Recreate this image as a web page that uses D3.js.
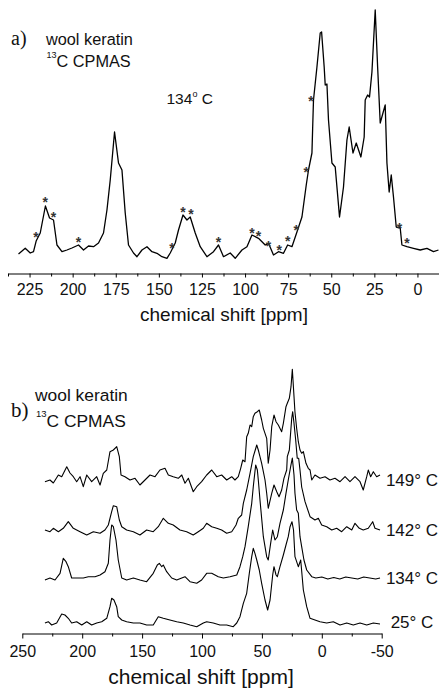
<!DOCTYPE html>
<html><head><meta charset="utf-8">
<script src="https://cdn.jsdelivr.net/npm/d3@7"></script>
<style>body{margin:0;background:#fff} svg{display:block;font-family:"Liberation Sans",Arial,sans-serif}</style>
</head><body>
<svg id="c" width="439" height="691"></svg>
<script>
// ---------- panel a data: 13C CPMAS of wool keratin at 134 °C ----------
const spectrumA = [[231.4,0],[227.5,5.7],[224.6,1],[222.7,2.3],[221.1,13.3],[218.8,21],[215.8,48],[213.4,36],[211.1,34],[209.1,9],[206.2,2.3],[203.3,4],[200.4,6],[196.6,9],[193.7,4],[190.8,8],[187.9,7.3],[185,11],[182.1,21],[180.1,44],[178.2,74],[175.7,122],[173.4,91],[171.4,84],[169.5,41],[167.6,9],[164.7,1],[162.7,-2.7],[159.8,4],[156.9,7.3],[154,2.3],[151.1,0.7],[148.2,-2.7],[145.3,-4.3],[143.4,1],[140.5,11],[138.6,24],[136,39],[133.7,34],[131.8,37],[128.9,21],[126,7.3],[122.1,-2.7],[118.3,2.3],[115.4,9],[112.5,-2.7],[108.6,1],[105.7,-4.3],[101.8,4],[98.9,7.3],[96,19],[92.2,15.7],[88.3,9],[86.4,10.7],[83.5,-1],[80.6,2.3],[77.7,0.7],[75.3,9],[72.8,7.3],[69.9,22],[67,37],[64.5,69],[63.2,84],[61.2,101],[60.8,125],[60.3,154],[58.3,187],[56.4,221],[55.6,222],[54.1,187],[53.5,169],[52.5,170],[51.6,134],[49.6,91],[47.7,87],[45.2,37],[42.9,67],[40.9,114],[39.6,127],[37.4,101],[35.5,111],[32.8,97],[30.9,117],[30.3,154],[28.9,159],[27.8,157],[26.4,182],[24.5,244],[23.1,187],[21.6,131],[20,141],[18.7,149],[17.7,91],[16.4,62],[15.2,79],[13.9,57],[12.3,27],[10,26],[9,9],[6.1,7.3],[2.3,5.7],[-1.6,4],[-5.5,5.7],[-9.3,2.3],[-12.2,4]];
const starsA = [[221.3,19.7],[215.9,54.7],[211.1,39.7],[196.6,14.7],[142.4,9.5],[136,44.7],[131.4,43],[115.4,14.7],[96,24],[92.2,21.3],[86.4,11.3],[80.2,6.7],[75.3,15.7],[70.3,27.3],[64.5,85.3],[61.8,156.3],[10.4,29],[6.1,14]];
const majorTicksA = [225,200,175,150,125,100,75,50,25,0];
const minorTicksA = [237.5,212.5,187.5,162.5,137.5,112.5,87.5,62.5,37.5,12.5,-12.5];
const tickLabelsA = ["225","200","175","150","125","100","75","50","25","0"];

// ---------- panel b data: spectra at four temperatures ----------
const trace25 = [[231.1,0],[228.3,1.3],[225.5,-2],[221.3,0],[217.1,9],[214.4,8],[211.6,4.7],[208.8,0],[204.6,1.3],[200.4,-2],[196.2,1.3],[192.1,-2],[187.9,0],[183.7,1.3],[179.5,4.7],[176.8,16.3],[175.4,24.7],[173.5,23],[171.2,16.3],[169.9,6.3],[167,3],[162.9,1.3],[157.3,0],[151.8,0],[146.2,-2],[140.7,-2],[136.5,6.3],[132.3,4.7],[126.8,3],[121.1,1.3],[115.6,0],[110,-2],[104.4,-3.7],[98.9,0],[96.1,1.3],[90.6,0],[85,-2],[79.4,-2],[73.9,-3.7],[71,0],[68.3,6.3],[65.5,19.7],[62.7,29.7],[60.5,49.7],[58.5,66.3],[57.2,74.7],[55.8,69.7],[54.3,63],[52.2,53],[50.2,39.7],[47.4,23],[45.2,13],[43.2,23],[41,48],[39.9,56.3],[38.2,48],[37.1,46.3],[34.9,56.3],[32.1,68],[29.9,78],[28,86.3],[26.5,96.3],[24.9,101.3],[23.6,93],[22.4,66.3],[19.6,56.3],[17.6,63],[15.4,33],[12.6,16.3],[9.8,4.7],[5.7,3],[1.5,1.3],[-4.1,0],[-9.6,1.3],[-15.2,-2],[-20.8,0],[-26.3,-2],[-31.9,0],[-37.5,-2],[-43,0],[-48.6,-1]];
const trace134 = [[231.1,-2],[226.9,0],[222.7,-2],[218.5,4.7],[215.8,19.7],[213.5,16.3],[211.6,11.3],[208.8,0],[204.6,0],[199.1,0],[194.9,1.3],[189.3,1.3],[185.1,3],[181,6.3],[178.2,14.7],[176.8,38],[175.4,53],[174,51.3],[171.8,38],[169.9,18],[167,0],[162.9,-2],[157.3,0],[151.8,-2],[146.2,-3.7],[140.7,4.7],[137.3,13],[135.6,14.7],[133.6,11.3],[132.3,13],[129.5,6.3],[125.3,0],[121.1,-2],[116.9,0],[114.2,1.3],[110,-3.7],[104.4,-5.3],[100.3,-2],[96.1,4.7],[91.9,4.7],[86.4,1.3],[82.2,0],[76.6,1.3],[71,3],[68.3,11.3],[66,21.3],[64.1,31.3],[61.4,51.3],[58.5,74.7],[57.2,91.3],[55.2,113],[53.8,108],[53,98],[51.6,78],[48.8,41.3],[46,21.3],[44.7,18],[42.7,34.7],[41,48],[39.1,38],[37.1,41.3],[34.9,54.7],[32.1,68],[29.9,84.7],[28,98],[26,111.3],[24.6,120],[23.2,103],[22.4,84.7],[21,68],[19.6,64.7],[18.2,41.3],[16.8,31.3],[14.9,18],[12.6,8],[8.4,1.3],[5,0],[0,1],[-5,-1],[-10,0.5],[-15,-1],[-20,1],[-25,0],[-30,-1],[-35,1],[-40,0],[-45,-1],[-48.6,0]];
const trace142 = [[231.1,0],[226.9,-1.7],[224.1,1.7],[219.9,-1.7],[215.8,1.7],[211.6,8.3],[207.4,1.7],[201.8,-1.7],[196.2,-5],[190.7,-1.7],[185.1,-3.3],[181,0],[178.2,5],[175.4,18.3],[174,24.3],[171.2,23.3],[169,10],[167,3.3],[162.9,0],[157.3,-1.7],[151.8,-5],[146.2,0],[140.7,-1.7],[136.5,3.3],[132.3,11.7],[128.1,6.7],[124,5],[118.4,0],[112.8,-1.7],[107.3,-5],[103.1,-1.7],[98.9,1.7],[96.1,6.7],[91.9,3.3],[87.7,1.7],[83.6,0],[79.4,-3.3],[75.2,-1.7],[71.6,5],[69.7,11.7],[66.9,15],[65.5,26.7],[62.7,40],[59.9,56.7],[57.2,73.3],[54.3,85],[53,80],[51.6,73.3],[50.2,66.7],[48.8,58.3],[47.4,50],[46,36.7],[44.7,21.7],[41.8,36.7],[39.9,45],[37.6,38.3],[35.7,33.3],[33.5,40],[31.6,51.7],[29.3,60],[28.8,73.3],[27.1,80],[25.1,111.7],[24.3,118.3],[23.2,106.7],[21.8,90],[20.5,71.7],[19.3,71.7],[18.2,60],[16.8,43],[14,28.3],[9.8,13.3],[5.7,10],[2.9,11.7],[0.1,5],[-4.1,3.3],[-8.3,0],[-12.4,1.7],[-16.6,-1.7],[-20.8,3.3],[-25,0],[-27.7,6.7],[-31.3,1.7],[-34.6,0],[-38.8,1.7],[-42.5,8.3],[-44.4,1.7],[-48.6,0]];
const trace149 = [[231.1,-2.7],[226.9,-1],[224.1,-4],[219.9,4],[217.1,2.3],[212.9,12.3],[210.2,6],[207.4,2.3],[204.6,-2.7],[201.8,2.3],[199.1,-7.7],[196.2,4],[192.1,-2.7],[187.9,2.3],[185.1,-6],[182.4,5.7],[179.5,9],[176.8,27.3],[174,29],[171.2,32.3],[169,22.3],[167.6,4],[164.3,2.3],[160.1,-1],[155.9,0.7],[151.8,-6],[147.6,-1],[143.4,4],[139.2,2.3],[135.1,9],[130.9,10.7],[128.1,4],[124,2.3],[119.8,0.7],[116.9,4],[114.2,-4.3],[111.4,0.7],[107.3,-12.7],[104.4,-7.7],[100.3,-2.7],[96.1,4],[91.9,9],[87.7,2.3],[83.6,4],[79.4,-1],[75.2,2.3],[72.5,-1],[69.7,2.3],[67.7,10.7],[66,19],[64.1,17.3],[62.7,42.3],[61.4,45.7],[59.9,54],[58.5,52.3],[57.2,62.3],[55.8,65.7],[53.8,67.3],[52.2,69],[50.2,59],[48.8,50.7],[47.4,45.7],[46,40.7],[44.7,15.7],[43.2,29],[41.8,52.3],[39.9,64],[38.2,57.3],[36.3,54],[33.5,47.3],[32.1,55.7],[29.9,72.3],[28.8,75.7],[27.1,80.7],[25.7,92.3],[24.6,109.7],[22.4,67],[21,50.7],[19.6,37.3],[18.2,29],[16.8,25.7],[15.4,27.3],[13.2,15.7],[11.3,10.7],[9.8,9],[8.4,-1],[5.7,4],[1.5,0.7],[-2.7,2.3],[-6.8,-1],[-11,0.7],[-15.2,-2.7],[-19.4,2.3],[-23.5,-2.7],[-27.7,2.3],[-31.9,-2.7],[-34.6,-11],[-37.5,2.3],[-38.8,9],[-40.8,2.3],[-43,7.3],[-45.8,2.3],[-48.6,4]];
const tracesB = [trace25, trace134, trace142, trace149];
const offsetsB = [10, 55, 103, 154];
const tempLabels = ["25° C", "134° C", "142° C", "149° C"];
const majorTicksB = [250,200,150,100,50,0,-50];
const minorTicksB = [225,175,125,75,25,-25];
const tickLabelsB = ["250","200","150","100","50","0","-50"];

const svg = d3.select("#c");
const FONT = '"Liberation Sans", Arial, sans-serif';
const SERIF = '"Liberation Serif", "Times New Roman", serif';

// ---------- panel a ----------
const xA = d3.scaleLinear().domain([237.5, -12.5]).range([8, 439]);
const yA = d3.scaleLinear().domain([0, 244]).range([254, 10]);
const axisYA = 273.5;

svg.append("path").datum(spectrumA)
  .attr("fill","none").attr("stroke","#000").attr("stroke-width",1.3).attr("stroke-linejoin","round")
  .attr("d", d3.line().x(d=>xA(d[0])).y(d=>yA(d[1])));

svg.append("g").selectAll("text").data(starsA).join("text")
  .attr("x", d=>xA(d[0])).attr("y", d=>yA(d[1]) + 8)
  .attr("text-anchor","middle").attr("font-size",14).attr("font-weight","bold").attr("fill","#333")
  .attr("font-family",FONT).text("*");

const gA = svg.append("g").attr("transform",`translate(0,${axisYA})`);
gA.call(d3.axisBottom(xA).tickValues(majorTicksA).tickSize(4).tickSizeOuter(0).tickPadding(6)
  .tickFormat((d,i)=>tickLabelsA[i]));
const gA2 = svg.append("g").attr("transform",`translate(0,${axisYA})`);
gA2.call(d3.axisBottom(xA).tickValues(minorTicksA).tickSize(3).tickSizeOuter(0).tickFormat(""));
gA2.select(".domain").remove();
svg.selectAll("g.tick text").attr("font-size",16).attr("font-family",FONT).attr("fill","#111");
svg.selectAll(".domain, .tick line").attr("stroke","#000").attr("stroke-width",1);

svg.append("text").attr("x",224).attr("y",321).attr("text-anchor","middle")
  .attr("font-size",19).attr("font-family",FONT).attr("fill","#111").text("chemical shift [ppm]");

svg.append("text").attr("x",11).attr("y",44.5).attr("font-family",SERIF).attr("font-size",20).attr("fill","#111").text("a)");
svg.append("text").attr("x",46).attr("y",44.5).attr("font-family",FONT).attr("font-size",16.3).attr("fill","#111").text("wool keratin");
svg.append("text").attr("x",46.5).attr("y",58).attr("font-family",FONT).attr("font-size",9).attr("fill","#111").text("13");
svg.append("text").attr("x",56.5).attr("y",66.7).attr("font-family",FONT).attr("font-size",16.3).attr("fill","#111").text("C CPMAS");
const tA = svg.append("text").attr("x",166.5).attr("y",104.3).attr("font-family",FONT).attr("font-size",15.5).attr("fill","#111");
tA.append("tspan").text("134");
tA.append("tspan").attr("font-size",9).attr("dy",-7).text("o");
tA.append("tspan").attr("dy",7).text(" C");

// ---------- panel b ----------
const xB = d3.scaleLinear().domain([250, -50]).range([22.3, 381.7]);
const yB = d3.scaleLinear().domain([0, 270]).range([633, 363]);
const axisYB = 633.5;

tracesB.forEach((tr, i) => {
  svg.append("path").datum(tr)
    .attr("fill","none").attr("stroke","#000").attr("stroke-width",1.1).attr("stroke-linejoin","round")
    .attr("d", d3.line().x(d=>xB(d[0])).y(d=>yB(d[1] + offsetsB[i])));
  svg.append("text").attr("x",412).attr("y", yB(offsetsB[i]) + [5,6,6,7][i])
    .attr("text-anchor","middle").attr("font-family",FONT).attr("font-size",17).attr("fill","#111")
    .text(tempLabels[i]);
});

const gB = svg.append("g").attr("transform",`translate(0,${axisYB})`);
gB.call(d3.axisBottom(xB).tickValues(majorTicksB).tickSize(5).tickSizeOuter(0).tickPadding(7)
  .tickFormat((d,i)=>tickLabelsB[i]));
const gB2 = svg.append("g").attr("transform",`translate(0,${axisYB})`);
gB2.call(d3.axisBottom(xB).tickValues(minorTicksB).tickSize(3).tickSizeOuter(0).tickFormat(""));
gB2.select(".domain").remove();
gB.selectAll(".tick text").attr("font-size",16).attr("font-family",FONT).attr("fill","#111");
svg.selectAll(".domain, .tick line").attr("stroke","#000").attr("stroke-width",1);

svg.append("text").attr("x",201).attr("y",684).attr("text-anchor","middle")
  .attr("font-size",21).attr("font-family",FONT).attr("fill","#111").text("chemical shift [ppm]");

svg.append("text").attr("x",11).attr("y",416.7).attr("font-family",SERIF).attr("font-size",21).attr("fill","#111").text("b)");
svg.append("text").attr("x",35).attr("y",401).attr("font-family",FONT).attr("font-size",17.4).attr("fill","#111").text("wool keratin");
svg.append("text").attr("x",36).attr("y",417).attr("font-family",FONT).attr("font-size",9.5).attr("fill","#111").text("13");
svg.append("text").attr("x",46.5).attr("y",426.7).attr("font-family",FONT).attr("font-size",17.4).attr("fill","#111").text("C CPMAS");
</script>
</body></html>
